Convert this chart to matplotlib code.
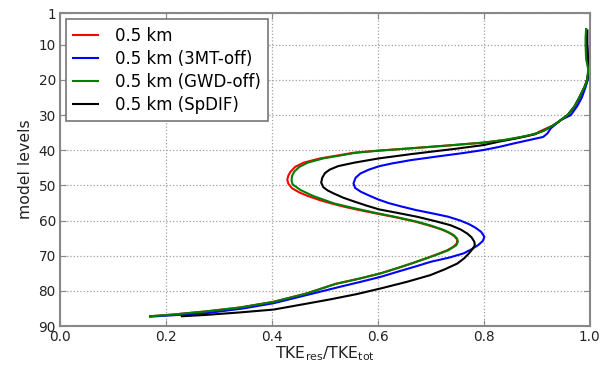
import matplotlib
matplotlib.use("Agg")
import matplotlib.pyplot as plt

# ---- data (model level, TKE ratio) ----
red_lev = [6, 10, 15, 18, 20, 22, 25, 27.5, 30, 32, 33, 34.2, 34.6, 35.4, 36, 37, 37.8, 38.6, 39.4,
           40.1, 40.7, 41.5, 42.3, 43.5, 44.7, 46.1, 47.2, 48.3, 49.5, 50.8, 52, 53, 54.2, 55.1, 56,
           57, 58, 59, 60.2, 61.3, 62.5, 63.5, 64.5, 65.5, 66.5, 67.5, 68.5, 69.5, 70.5, 72, 73.5,
           75, 76.5, 78, 80.7, 83.1, 84.7, 85.8, 86.7, 87.2]
red_val = [0.995, 0.995, 0.997, 0.997, 0.995, 0.990, 0.981, 0.972, 0.958, 0.940, 0.930, 0.912, 0.906,
           0.898, 0.880, 0.845, 0.800, 0.735, 0.665, 0.599, 0.554, 0.523, 0.491, 0.460, 0.444, 0.435,
           0.431, 0.429, 0.431, 0.438, 0.452, 0.468, 0.491, 0.512, 0.535, 0.565, 0.598, 0.632, 0.668,
           0.695, 0.720, 0.735, 0.745, 0.750, 0.749, 0.742, 0.730, 0.713, 0.695, 0.667, 0.637, 0.605,
           0.565, 0.520, 0.466, 0.403, 0.340, 0.277, 0.214, 0.170]

blue_lev = [6, 10, 15, 18, 20, 22, 25, 27.5, 30, 31.4, 33.8, 35.2, 36.2, 37, 38, 39, 39.9, 40.8,
            41.8, 42.8, 43.7, 44.5, 45.5, 46.6, 47.8, 49.4, 50.7, 51.8, 52.9, 54, 55, 56, 57, 58,
            58.9, 60, 61, 62, 63.2, 64.6, 65.8, 67, 68.2, 69.3, 70.5, 71.7, 73, 74.5, 76, 77.5, 78.8,
            81, 83.5, 85, 86.3, 86.9, 87.3]
blue_val = [0.995, 0.995, 0.997, 0.997, 0.996, 0.992, 0.985, 0.976, 0.964, 0.945, 0.926, 0.920, 0.912,
            0.888, 0.858, 0.830, 0.800, 0.760, 0.710, 0.662, 0.628, 0.603, 0.583, 0.567, 0.558, 0.554,
            0.557, 0.568, 0.584, 0.601, 0.620, 0.645, 0.672, 0.705, 0.733, 0.756, 0.772, 0.784, 0.795,
            0.801, 0.798, 0.789, 0.776, 0.762, 0.735, 0.700, 0.672, 0.638, 0.605, 0.565, 0.529, 0.470,
            0.403, 0.345, 0.277, 0.215, 0.170]

green_lev = [5.5, 8, 10, 14, 17, 20, 22, 25, 27.5, 30, 32, 33, 34.5, 35.4, 36.2, 37, 37.8, 38.6, 39.4,
             40.1, 40.7, 41.5, 42.3, 43.5, 44.7, 46.1, 47.3, 48.5, 49.7, 51.3, 53, 55.1, 56.5, 58, 59,
             60.3, 61.5, 62.7, 64, 65, 66, 67, 68.5, 69.5, 70.5, 72, 73.5, 75, 76.5, 78, 80.7, 83.1,
             84.7, 85.8, 86.7, 87.2]
green_val = [0.993, 0.992, 0.992, 0.993, 0.997, 0.995, 0.990, 0.980, 0.971, 0.958, 0.940, 0.930, 0.912,
             0.895, 0.870, 0.840, 0.800, 0.735, 0.665, 0.603, 0.558, 0.528, 0.497, 0.468, 0.452, 0.442,
             0.438, 0.437, 0.439, 0.454, 0.478, 0.517, 0.556, 0.602, 0.635, 0.674, 0.702, 0.725, 0.742,
             0.749, 0.751, 0.748, 0.732, 0.714, 0.696, 0.667, 0.637, 0.605, 0.565, 0.520, 0.466, 0.403,
             0.340, 0.277, 0.214, 0.170]

black_lev = [6, 10, 15, 18, 20, 22, 25, 27.5, 30, 32, 33, 34.5, 35.5, 36.5, 37.5, 38.5, 39.5, 40.5,
             41.1, 42.3, 43.5, 44.5, 45.5, 46.5, 47.8, 49.2, 50.5, 51.4, 52.3, 53.5, 54.6, 55.7, 56.8,
             57.8, 58.9, 60.1, 61.3, 62.5, 63.7, 64.8, 66, 67, 68, 69.3, 70.7, 72.2, 73.8, 75.5, 77.4,
             79.3, 80.9, 82.4, 83.9, 85.3, 86.1, 86.8, 87.2]
black_val = [0.995, 0.995, 0.997, 0.997, 0.995, 0.990, 0.980, 0.971, 0.958, 0.940, 0.930, 0.912, 0.893,
             0.865, 0.830, 0.800, 0.750, 0.695, 0.662, 0.602, 0.556, 0.525, 0.509, 0.500, 0.495, 0.493,
             0.497, 0.505, 0.517, 0.535, 0.556, 0.578, 0.602, 0.637, 0.674, 0.707, 0.737, 0.756, 0.769,
             0.777, 0.782, 0.783, 0.779, 0.772, 0.763, 0.750, 0.727, 0.699, 0.655, 0.605, 0.560, 0.510,
             0.455, 0.403, 0.340, 0.277, 0.230]

labels = ["0.5 km", "0.5 km (3MT-off)", "0.5 km (GWD-off)", "0.5 km (SpDIF)"]
colors = ["#ff0000", "#0000ff", "#008000", "#000000"]
zorders = [2, 2.1, 2.3, 2.2]
yticks = [1, 10, 20, 30, 40, 50, 60, 70, 80, 90]
xticks = [0.0, 0.2, 0.4, 0.6, 0.8, 1.0]

plt.rcParams['font.family'] = ['DejaVu Sans']
fig = plt.figure(figsize=(6.0, 3.66), dpi=100)
ax = fig.add_axes([0.1, 0.109, 0.883, 0.855])

series = [(red_val, red_lev), (blue_val, blue_lev), (green_val, green_lev), (black_val, black_lev)]
for (v, l), lab, c, z in zip(series, labels, colors, zorders):
    ax.plot(v, l, color=c, lw=1.5, label=lab, zorder=z, solid_joinstyle="round")

ax.set_xlim(0, 1)
ax.set_ylim(90, 1)
ax.set_xticks(xticks)
ax.set_xticklabels([f"{t:.1f}" for t in xticks])
ax.set_yticks(yticks)
ax.grid(True, color="#a0a0a0", linestyle=":", linewidth=0.9)
for s in ax.spines.values():
    s.set_color("#888888")
    s.set_linewidth(1.5)
ax.tick_params(direction="in", top=True, right=True, colors="#888888", labelcolor="#222222",
               labelsize=9.8, length=4, pad=3)
ax.set_xlabel(r"TKE$_{\mathrm{res}}$/TKE$_{\mathrm{tot}}$", fontsize=11.3, color="#222222", labelpad=0)
ax.set_ylabel("model levels", fontsize=11.3, color="#222222", labelpad=4)

leg = ax.legend(loc="upper left", fontsize=12, fancybox=False, framealpha=1,
                edgecolor="#777777", handlelength=1.5, handletextpad=1.0, borderpad=0.45,
                labelspacing=0.3, borderaxespad=0.35)
leg.get_frame().set_linewidth(1.2)

fig.savefig("out.png", dpi=100, facecolor="white")
